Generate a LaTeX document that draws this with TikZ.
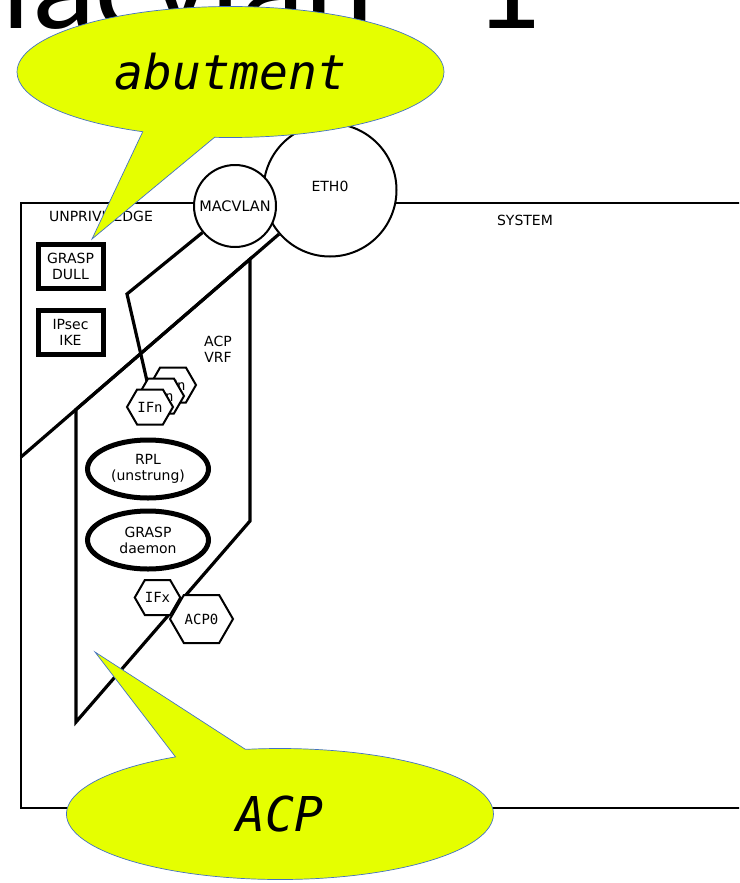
\documentclass[tikz,border=0pt]{standalone}
\usepackage{fontspec}
\setmainfont{DejaVu Sans}
\setmonofont{DejaVu Sans Mono}
\newfontfamily\titlefont{Carlito}
\usepackage{tikz}
\usetikzlibrary{positioning, shapes.geometric, shapes.symbols, shapes.callouts}
\definecolor{bubblefill}{RGB}{229,255,0}
\definecolor{bubbleline}{RGB}{68,114,196}

\begin{document}
\begin{tikzpicture}[
    x=1pt, y=-1pt,
    % Styles
    tag/.style={font=\fontsize{14}{16}\selectfont, align=center, inner sep=0pt},
    zone/.style={draw, line width=2pt},
    vrf/.style={draw, line width=3.2pt, line join=miter},
    daemonbox/.style={draw, line width=5pt, fill=white, minimum width=65pt,
        minimum height=44pt, inner sep=0pt, align=center,
        font=\fontsize{14}{16}\selectfont},
    proc/.style={draw, ellipse, line width=5pt, fill=white, minimum width=121pt,
        minimum height=58pt, inner sep=0pt, align=center,
        font=\fontsize{14}{16}\selectfont},
    port/.style={draw, circle, line width=2pt, fill=white, inner sep=0pt,
        font=\fontsize{14.5}{16}\selectfont},
    iface/.style={draw, fill=white, line width=2pt, shape=signal,
        signal to=west and east, signal pointer angle=120,
        minimum width=46pt, minimum height=35pt, inner sep=0pt,
        font=\fontsize{14}{16}\selectfont\ttfamily},
    bubble/.style={ellipse callout, draw=bubbleline, line width=0.7pt,
        fill=bubblefill, minimum width=427pt, minimum height=131pt,
        inner sep=0pt, callout pointer arc=20,
        font=\fontsize{48}{50}\selectfont\ttfamily\itshape},
]

\useasboundingbox (0,0) rectangle (739,883);
\clip (0,0) rectangle (739,883);

% ===== Title (cut off at the top) =====
\node[anchor=base west, inner sep=0pt, font=\fontsize{132}{132}\titlefont]
    (title) at (-81,28.5) {Macvlan - 1};

% ===== System and its regions =====
\draw[zone] (21,203) rectangle (760,808);
\node[tag] (systemlbl) at (525,220) {SYSTEM};
\node[tag] (unprivlbl) at (101,216) {UNPRIVILEDGE};

\node[port, minimum size=133pt] (eth0) at (330,190) {};
\node[tag] (eth0lbl) at (330,186) {ETH0};
\node[port, minimum size=82pt] (macvlan) at (235,206) {MACVLAN};

% Boundary of the unprivileged part
\coordinate (unpriv) at (21,457);
\draw[vrf] (unpriv) -- (eth0);

% ACP VRF
\draw[vrf] (76,409.5) -- (250,259.1) -- (250,521) -- (76,722) -- cycle;
\node[tag] (vrflbl) at (218,349) {ACP\\VRF};

% Unprivileged daemons
\node[daemonbox] (dull) at (70.5,266.5) {GRASP\\DULL};
\node[daemonbox, below=17pt of dull] (ike) {IPsec\\IKE};

% Link from MACVLAN into the ACP
\coordinate (bend) at (127,294);
\draw[vrf] (macvlan) -- (bend) -- (147,381);

% --- Interfaces ---
\node[iface] (ifn3) at (173,385) {IFn};
\node[iface] (ifn2) at (161,396) {IFn};
\node[iface] (ifn1) at (150,407) {IFn};

\node[proc] (rpl) at (148,469) {RPL\\(unstrung)};
\node[proc, below=8pt of rpl] (graspd) {GRASP\\daemon};

\node[iface, minimum width=45pt] (ifx) at (157.5,597.5) {IFx};
\node[iface, minimum width=63pt, minimum height=48pt] (acp0) at (201.5,619) {ACP0};

% ===== Callouts =====
\node[bubble, callout absolute pointer={(92,239)}] (abut) at (230.5,72) {abutment};
\node[bubble, callout absolute pointer={(95,652)}] (acpbub) at (280,814) {ACP};

\end{tikzpicture}
\end{document}
